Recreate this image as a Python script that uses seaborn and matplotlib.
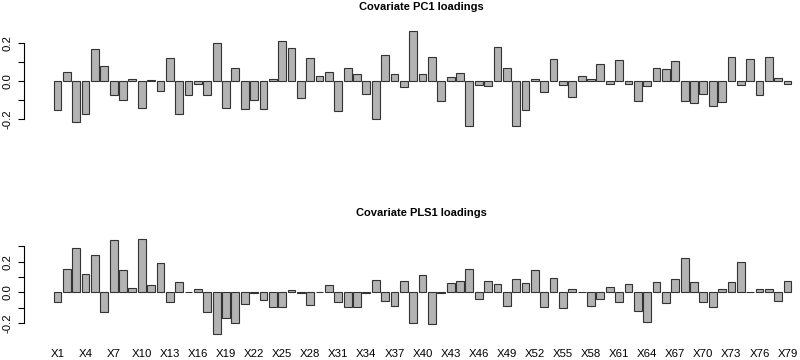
import numpy as np
import pandas as pd
import matplotlib
matplotlib.use("Agg")
import matplotlib.pyplot as plt
import seaborn as sns

names = [f"X{i}" for i in range(1, 80)]

pc1 = [-0.151, 0.051, -0.212, -0.174, 0.170, 0.081, -0.070, -0.098, 0.011, -0.142,
       0.005, -0.051, 0.123, -0.172, -0.074, -0.016, -0.072, 0.200, -0.142, 0.070,
       -0.147, -0.098, -0.147, 0.011, 0.212, 0.174, -0.089, 0.125, 0.026, 0.047,
       -0.156, 0.072, 0.037, -0.065, -0.198, 0.140, 0.040, -0.032, 0.267, 0.037,
       0.126, -0.105, 0.021, 0.046, -0.235, -0.021, -0.026, 0.182, 0.070, -0.235,
       -0.149, 0.011, -0.058, 0.118, -0.021, -0.081, 0.026, 0.012, 0.093, -0.014,
       0.111, -0.016, -0.104, -0.026, 0.072, 0.067, 0.109, -0.102, -0.114, -0.065,
       -0.128, -0.109, 0.128, -0.018, 0.119, -0.070, 0.128, 0.016, -0.016]

pls1 = [-0.063, 0.150, 0.291, 0.117, 0.243, -0.128, 0.341, 0.143, 0.028, 0.350,
        0.048, 0.191, -0.065, 0.070, 0.003, 0.022, -0.130, -0.270, -0.165, -0.198,
        -0.076, -0.002, -0.050, -0.096, -0.096, 0.013, -0.002, -0.080, 0.001, 0.046,
        -0.061, -0.096, -0.096, -0.005, 0.080, -0.054, -0.091, 0.076, -0.202, 0.113,
        -0.207, -0.004, 0.059, 0.072, 0.154, -0.041, 0.074, 0.054, -0.087, 0.085,
        0.063, 0.148, -0.098, 0.091, -0.102, 0.022, 0.001, -0.089, -0.043, 0.033,
        -0.061, 0.057, -0.120, -0.193, 0.065, -0.072, 0.087, 0.222, 0.065, -0.061,
        -0.098, 0.024, 0.065, 0.196, 0.005, 0.024, 0.024, -0.054, 0.072]

titles = ["Covariate PC1 loadings", "Covariate PLS1 loadings"]

sns.set_theme(style="white")
plt.rcParams['font.family'] = ['Liberation Sans', 'DejaVu Sans']

W, H = 800, 360
fig = plt.figure(figsize=(8, 3.6), dpi=100)

def px_axes(left, top, right, bottom):
    return fig.add_axes([left / W, 1 - bottom / H, (right - left) / W, (bottom - top) / H])

panels = [
    dict(vals=pc1, top=26.8, bottom=129.8, ylim=(-0.255, 0.287), ticks=[-0.2, -0.1, 0.0, 0.1, 0.2],
         bounds=(-0.2, 0.2), title_y=7.5, show_x=False),
    dict(vals=pls1, top=234.8, bottom=337.5, ylim=(-0.295, 0.375), ticks=[-0.2, -0.1, 0.0, 0.1, 0.2, 0.3],
         bounds=(-0.2, 0.3), title_y=213.5, show_x=True),
]

def lab(t):
    if abs(t + 0.2) < 1e-9:
        return "-0.2"
    if abs(t) < 1e-9:
        return "0.0"
    if abs(t - 0.2) < 1e-9:
        return "0.2"
    return ""

for p, title in zip(panels, titles):
    ax = px_axes(24, p["top"], 821, p["bottom"])
    df = pd.DataFrame({"name": names, "value": p["vals"]})
    sns.barplot(data=df, x="name", y="value", ax=ax, color="#b3b3b3", saturation=1,
                edgecolor="#333333", linewidth=0.8, width=0.833, errorbar=None)
    ax.set_xlim(-3.58, 81.57)
    ax.set_ylim(*p["ylim"])
    for s in ["top", "right", "bottom"]:
        ax.spines[s].set_visible(False)
    ax.spines["left"].set_bounds(*p["bounds"])
    ax.spines["left"].set_color("black")
    ax.spines["left"].set_linewidth(0.8)
    ax.set_yticks(p["ticks"])
    ax.set_yticklabels([lab(t) for t in p["ticks"]], rotation=90, va="center")
    ax.tick_params(axis="y", left=True, length=4, width=0.8, color="black", pad=4, labelsize=8.2,
                   labelcolor="black")
    ax.set_xlabel("")
    ax.set_ylabel("")
    ax.grid(False)
    if p["show_x"]:
        idx = list(range(0, 79, 3))
        ax.set_xticks(idx)
        ax.set_xticklabels([names[i] for i in idx])
        ax.tick_params(axis="x", bottom=False, length=0, pad=8, labelsize=8.2, labelcolor="black")
    else:
        ax.set_xticks([])
    fig.text(421 / W, 1 - p["title_y"] / H, title, ha="center", va="center",
             fontsize=8.0, fontweight="bold", color="black")

fig.savefig("out.png", dpi=100)
